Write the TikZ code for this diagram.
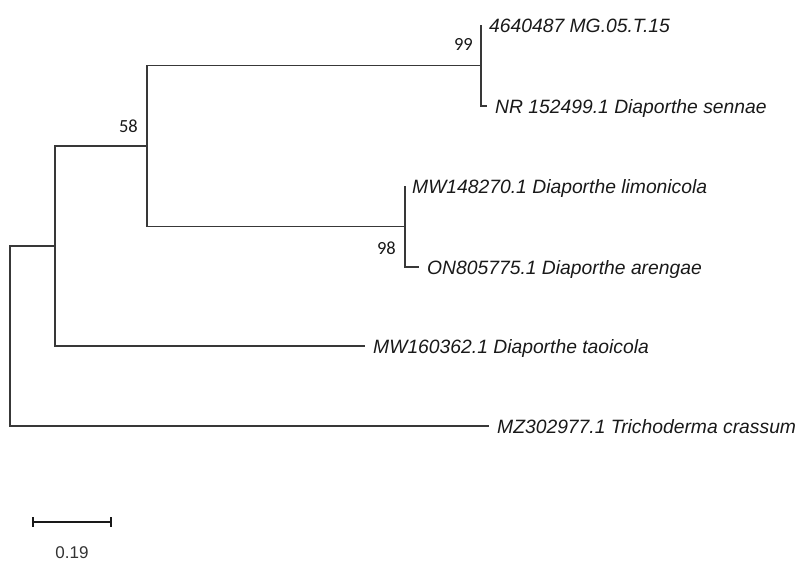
\documentclass[tikz,border=0pt]{standalone}
\usepackage{fontspec}
\setmainfont{Liberation Sans}
\newfontfamily\bootfont{Carlito}
\begin{document}
\begin{tikzpicture}[x=1pt,y=-1pt,
  branch/.style={line width=1.1pt, draw=black!78},
  tip/.style={anchor=base west, inner sep=0pt, text=black!90, font=\fontsize{19.3}{22}\selectfont\itshape},
  boot/.style={anchor=east, inner sep=0pt, text=black!90, font=\bootfont\fontsize{18.5}{20}\selectfont},
  scalebar/.style={line width=1.5pt, draw=black!90}]
\useasboundingbox (0,0) rectangle (801,563);
% internal nodes
\coordinate (root) at (10,336);
\coordinate (A) at (55,246);
\coordinate (B) at (147,146);
\coordinate (C) at (481,65.5);
\coordinate (D) at (405,226.5);
% tip ends
\coordinate (t1) at (481,25);
\coordinate (t2) at (487,106);
\coordinate (t3) at (405,186);
\coordinate (t4) at (419,267);
\coordinate (t5) at (365,346);
\coordinate (t6) at (489,426);
% branches
\draw[branch] (root) |- (A);
\draw[branch] (root) |- (t6);
\draw[branch] (A) |- (B);
\draw[branch] (A) |- (t5);
\draw[branch] (B) |- (C);
\draw[branch] (B) |- (D);
\draw[branch] (C) |- (t1);
\draw[branch] (C) |- (t2);
\draw[branch] (D) |- (t3);
\draw[branch] (D) |- (t4);
% tip labels
\node[tip] (l1) at (489,32) {4640487 MG.05.T.15};
\node[tip] (l2) at (495,113) {NR 152499.1 Diaporthe sennae};
\node[tip] (l3) at (412,193) {MW148270.1 Diaporthe limonicola};
\node[tip] (l4) at (427,274) {ON805775.1 Diaporthe arengae};
\node[tip] (l5) at (373,353) {MW160362.1 Diaporthe taoicola};
\node[tip] (l6) at (497,433) {MZ302977.1 Trichoderma crassum};
% bootstrap values
\node[boot] (b99) at (473,44) {99};
\node[boot] (b98) at (396,248) {98};
\node[boot] (b58) at (138,126) {58};
% scale bar
\coordinate (s1) at (33,522);
\coordinate (s2) at (111,522);
\draw[scalebar] (s1) -- (s2);
\draw[scalebar] ([yshift=5pt]s1) -- ([yshift=-5pt]s1);
\draw[scalebar] ([yshift=5pt]s2) -- ([yshift=-5pt]s2);
\node[inner sep=0pt, text=black!80, font=\fontsize{17}{19}\selectfont] (sl) at (72,553) {0.19};
\end{tikzpicture}
\end{document}
